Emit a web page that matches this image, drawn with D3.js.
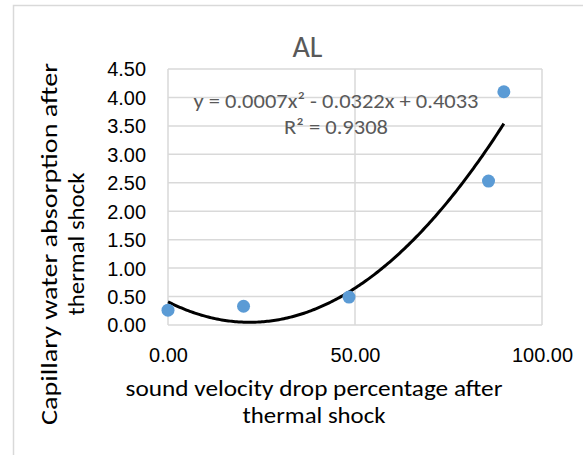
<!DOCTYPE html>
<html><head><meta charset="utf-8">
<script src="https://cdn.jsdelivr.net/npm/d3@7"></script>
<style>
html,body{margin:0;padding:0;background:#fff;}
svg{display:block;font-family:Carlito, Calibri, Lato, "Open Sans", sans-serif;}
</style></head>
<body><svg id="c" width="583" height="455"></svg>
<script>
const title = "AL";
const xValues = [0.0, 20.2, 48.4, 85.7, 89.8];
const yValues = [0.26, 0.33, 0.49, 2.53, 4.10];
const xTicks = [0, 50, 100];
const yTicks = [0, 0.5, 1, 1.5, 2, 2.5, 3, 3.5, 4, 4.5];
const xTitle = ["sound velocity drop percentage after", "thermal shock"];
const yTitle = ["Capillary water absorption after", "thermal shock"];
const eqLines = ["y = 0.0007x² - 0.0322x + 0.4033", "R² = 0.9308"];

const svg = d3.select("#c");
const m = {l:168, r:542, t:69, b:325};
const x = d3.scaleLinear().domain([0,100]).range([m.l, m.r]);
const y = d3.scaleLinear().domain([0,4.5]).range([m.b, m.t]);

function fit(sel, refNode, target){
  const base = 20;
  sel.attr("font-size", base);
  const w = refNode.getComputedTextLength();
  sel.attr("font-size", base * target / w);
}
function stretch(sel, widths){
  sel.each(function(d,i){
    const w = this.getComputedTextLength();
    if (Math.abs(w - widths[i]) > 1) d3.select(this).attr("textLength", widths[i]).attr("lengthAdjust","spacingAndGlyphs");
  });
}

// chart border
svg.append("rect").attr("x",13.5).attr("y",5.5).attr("width",620).attr("height",500)
  .attr("fill","#fff").attr("stroke","#d9d9d9").attr("stroke-width",1.5);

// gridlines
const grid = svg.append("g");
grid.selectAll("line.h").data(yTicks).join("line")
  .attr("x1",m.l).attr("x2",m.r).attr("y1",d=>y(d)).attr("y2",d=>y(d))
  .attr("stroke","#d9d9d9").attr("stroke-width",1.5);
grid.selectAll("line.v").data(xTicks).join("line")
  .attr("y1",m.t).attr("y2",m.b).attr("x1",d=>x(d)).attr("x2",d=>x(d))
  .attr("stroke","#d9d9d9").attr("stroke-width",1.5);

// axes via d3 axes
const yAxis = svg.append("g").attr("transform",`translate(${m.l},0)`)
  .call(d3.axisLeft(y).tickValues(yTicks).tickFormat(d3.format(".2f")).tickSize(0).tickPadding(22));
const xAxis = svg.append("g").attr("transform",`translate(0,${m.b})`)
  .call(d3.axisBottom(x).tickValues(xTicks).tickFormat(d3.format(".2f")).tickSize(0));
[yAxis,xAxis].forEach(a=>{
  a.select(".domain").remove();
  a.selectAll("text").attr("font-family",null).attr("fill","#000");
});
const allTicks = svg.selectAll(".tick text");
fit(allTicks, xAxis.selectAll(".tick text").nodes()[2], 61);
yAxis.selectAll(".tick text").attr("dy","0.35em");
xAxis.selectAll(".tick text").attr("y", 37).attr("dy", 0);

// trendline: quadratic least squares from data
function quadFit(xs, ys){
  let S=[0,0,0,0,0], T=[0,0,0];
  xs.forEach((xi,i)=>{ for(let k=0;k<5;k++) S[k]+=Math.pow(xi,k); for(let k=0;k<3;k++) T[k]+=ys[i]*Math.pow(xi,k); });
  const A=[[S[0],S[1],S[2],T[0]],[S[1],S[2],S[3],T[1]],[S[2],S[3],S[4],T[2]]];
  for(let i=0;i<3;i++){ for(let j=i+1;j<3;j++){ const f=A[j][i]/A[i][i]; for(let k=i;k<4;k++) A[j][k]-=f*A[i][k]; } }
  const c=[0,0,0];
  for(let i=2;i>=0;i--){ let s=A[i][3]; for(let k=i+1;k<3;k++) s-=A[i][k]*c[k]; c[i]=s/A[i][i]; }
  return c;
}
const co = quadFit(xValues, yValues);
const xmin = d3.min(xValues), xmax = d3.max(xValues);
const curve = d3.range(0,201).map(i=>{ const xv = xmin + (xmax-xmin)*i/200; return [xv, co[0]+co[1]*xv+co[2]*xv*xv]; });
svg.append("path").datum(curve)
  .attr("d", d3.line().x(d=>x(d[0])).y(d=>y(d[1])))
  .attr("fill","none").attr("stroke","#000").attr("stroke-width",3);

// points
svg.append("g").selectAll("circle").data(xValues.map((d,i)=>[d,yValues[i]])).join("circle")
  .attr("cx",d=>x(d[0])).attr("cy",d=>y(d[1])).attr("r",6.5).attr("fill","#5b9bd5");

// equation
const eq = svg.append("g").selectAll("text").data(eqLines).join("text")
  .attr("x",336).attr("y",(d,i)=>108+i*26).attr("text-anchor","middle")
  .attr("font-size",20.5).attr("fill","#595959").text(d=>d);
stretch(eq, [285, 104]);

// title
svg.append("text").attr("x",307.5).attr("y",57).attr("text-anchor","middle")
  .attr("font-size",30).attr("fill","#595959").text(title);

// x title
const xt = svg.append("g").selectAll("text").data(xTitle).join("text")
  .attr("x",314).attr("y",(d,i)=>396+i*27).attr("text-anchor","middle")
  .attr("font-size",21.5).attr("fill","#000").text(d=>d);
stretch(xt, [377, 143]);

// y title
const yt = svg.append("g").selectAll("text").data(yTitle).join("text")
  .attr("transform",(d,i)=>`translate(${57+i*27},244) rotate(-90)`).attr("text-anchor","middle")
  .attr("font-size",21.5).attr("fill","#000").text(d=>d);
stretch(yt, [362, 143]);
</script></body></html>
